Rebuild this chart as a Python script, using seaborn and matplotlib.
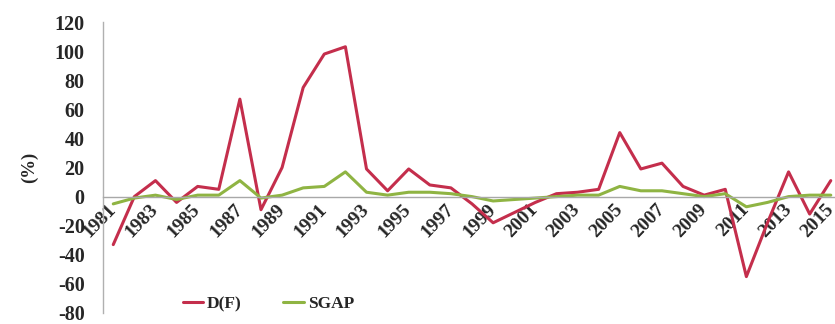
import pandas as pd
import matplotlib.pyplot as plt
import seaborn as sns

# --- Data ---
years = list(range(1981, 2016))
df_f = [-33, 0, 11, -4, 7, 5, 67, -9, 20, 75, 98, 103, 19, 4, 19, 8, 6, -5, -18,
        -11, -4, 2, 3, 5, 44, 19, 23, 7, 1, 5, -55, -18, 17, -12, 11]
sgap = [-5, -1, 1, -2, 1, 1, 11, -1, 1, 6, 7, 17, 3, 1, 3, 3, 2, 0, -3,
        -2, -1, 0, 1, 1, 7, 4, 4, 2, 0, 2, -7, -4, 0, 1, 1]

df = pd.DataFrame({"year": years * 2,
                   "value": df_f + sgap,
                   "series": ["D(F)"] * len(years) + ["SGAP"] * len(years)})

sns.set_theme(style="white")
plt.rcParams["font.family"] = ["Liberation Serif", "DejaVu Serif"]
plt.rcParams["font.weight"] = "bold"
plt.rcParams["axes.unicode_minus"] = False

fig = plt.figure(figsize=(8.35, 3.24), dpi=100)
ax = fig.add_axes([0.123, 0.034, 0.877, 0.898])

sns.lineplot(data=df, x="year", y="value", hue="series",
             palette={"D(F)": "#c42e4c", "SGAP": "#8fb443"},
             linewidth=2.2, ax=ax)

# x axis sits on the zero line (set before styling ticks, it resets them)
ax.spines["bottom"].set_position(("data", 0))
ax.spines["bottom"].set_color("#a8a8a8")
ax.spines["bottom"].set_linewidth(1.0)
ax.spines["left"].set_color("#b0b0b0")
ax.spines["left"].set_linewidth(1.0)
ax.spines["top"].set_visible(False)
ax.spines["right"].set_visible(False)

ax.set_xlim(1980.5, 2015.2)
ax.set_ylim(-80, 120)
ax.set_yticks(range(-80, 121, 20))
ax.set_xticks(years[::2])
ax.set_xticklabels([str(y) for y in years[::2]])
ax.tick_params(axis="x", length=0, pad=7, labelsize=14)
ax.tick_params(axis="y", length=0, pad=13, labelsize=14.5)
plt.setp(ax.get_xticklabels(), rotation=46, ha="right", va="center",
         rotation_mode="anchor", fontweight="bold")
plt.setp(ax.get_yticklabels(), fontweight="bold")

ax.set_xlabel("")
ax.set_ylabel("(%)", fontsize=13.5, fontweight="bold", labelpad=12)

ax.legend(loc="center", bbox_to_anchor=(0.226, 0.03), ncol=2, frameon=False,
          handlelength=1.2, handletextpad=0.2, columnspacing=2.4,
          prop={"weight": "bold", "size": 12.5})

plt.savefig("out.png", dpi=100)
